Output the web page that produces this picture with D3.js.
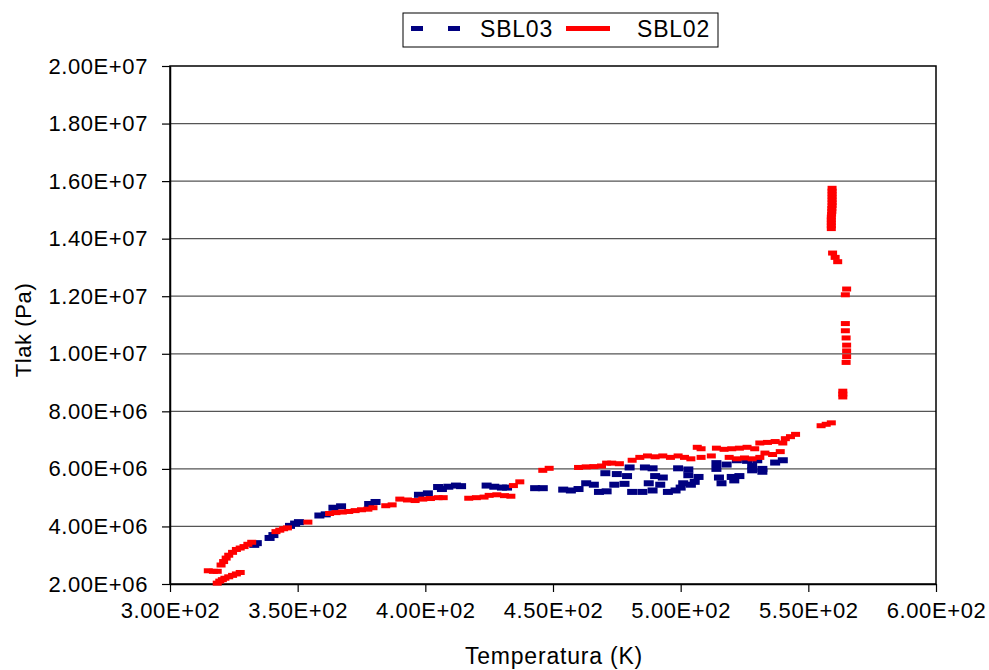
<!DOCTYPE html>
<html><head><meta charset="utf-8">
<script src="https://cdn.jsdelivr.net/npm/d3@7"></script>
<style>
body{margin:0;background:#fff;}
text{font-family:"Liberation Sans",Arial,sans-serif;fill:#000;}
</style></head>
<body>
<svg id="c" width="989" height="670"></svg>
<script>
// ---- data (Temperature K, Pressure Pa) ----
const xTicks = [300, 350, 400, 450, 500, 550, 600];
const yTicks = [2e6, 4e6, 6e6, 8e6, 1e7, 1.2e7, 1.4e7, 1.6e7, 1.8e7, 2e7];
const seriesNames = ["SBL03", "SBL02"];

const sbl03T = [333,334,339,340.5,347,349,350.5,358.5,361,364,367,378,380.5,397.5,401,405,406.5,409,412,414,
  424,427,430,432,443,446,454,457,460,463,466,468,471,470.5,475,479,480,474,478,486,489,490,493,487.5,492,
  481,485,489,495,498,499,503,503,507,501,504,500,505.5,514,514,518,515,520,523,522,526,530,528,532,537,540,516,521,528,532];
const sbl03P = [3.36,3.42,3.6,3.7,4.02,4.1,4.15,4.38,4.42,4.65,4.7,4.78,4.85,5.1,5.15,5.37,5.3,5.38,5.42,5.4,
  5.42,5.38,5.35,5.35,5.33,5.33,5.28,5.25,5.3,5.5,5.45,5.2,5.22,5.85,5.82,5.75,6.05,5.45,5.48,6.05,6.02,5.75,5.7,5.5,5.45,
  5.2,5.2,5.25,5.2,5.25,6.02,5.98,5.78,5.72,5.5,5.45,5.35,5.55,6.0,6.2,6.15,5.7,5.72,5.75,6.3,6.28,6.3,5.95,6.0,6.22,6.3,5.5,5.6,6.1,5.9].map(v => v * 1e6);

const sbl02T = [318.5,319.5,320.5,321.5,323,324.5,326,327.5,315,317,318.5,
  320,321,322,323,324.5,326,327.5,329,330.5,332,341.5,343,344.5,346,354,
  362.5,365,367.5,370,372.5,375,377.5,379.5,384.5,387,
  390,393,396,399,402,405,407,417,420,423,425,428,431,433.5,434.5,437,446,448.5,
  460,463,466,469,471,473,476,481,484,487,490,493,496,499,501.5,504,
  506.5,508,508,512,514,517,520,523,526,529,531,534,537,540,
  519,522,525,528,531,533,536,539,541,543,545,555,557,559,
  563.5,563.5,563.5,564.8,565,565,565,564.8,564.5,564.5,564.5,565,559.5,560.5,561.5,
  559,559,559,559,559,559.1,559.2,559.2,559.3,559.3,559.3,559.3,559.3,559.3,559.3];
const sbl02P = [2.03,2.10,2.15,2.2,2.25,2.3,2.35,2.4,2.46,2.44,2.44,
  2.66,2.78,2.9,3.0,3.1,3.2,3.25,3.3,3.38,3.45,3.82,3.87,3.92,3.95,4.15,
  4.45,4.48,4.5,4.52,4.55,4.58,4.6,4.65,4.72,4.75,
  4.95,4.92,4.9,4.95,4.97,5.0,5.0,4.98,5.0,5.02,5.08,5.1,5.07,5.05,5.42,5.55,5.95,6.02,
  6.05,6.07,6.08,6.1,6.2,6.2,6.18,6.3,6.4,6.45,6.42,6.45,6.4,6.45,6.4,6.35,
  6.75,6.7,6.4,6.45,6.72,6.68,6.7,6.72,6.75,6.7,6.9,6.92,6.95,6.9,
  6.4,6.35,6.38,6.35,6.4,6.55,6.5,6.6,7.05,7.12,7.2,7.5,7.55,7.6,
  8.5,8.6,8.7,9.7,9.9,10.1,10.3,10.55,10.8,11.05,12.05,12.25,13.5,13.35,13.2,
  14.35,14.45,14.55,14.65,14.75,14.85,14.95,15.05,15.15,15.25,15.35,15.45,15.55,15.65,15.75].map(v => v * 1e6);

const sbl03 = sbl03T.map((t, i) => [t, sbl03P[i]]);
const sbl02 = sbl02T.map((t, i) => [t, sbl02P[i]]);

// ---- drawing ----
const svg = d3.select("#c");
const L = 170, R = 936, T = 66, B = 584;
const x = d3.scaleLinear().domain([300, 600]).range([L, R]);
const y = d3.scaleLinear().domain([2e6, 2e7]).range([B, T]);
const FS = 22, LS = 0.6;

function fmtE(v) {
  let s = v.toExponential(2).toUpperCase();
  return s.replace(/E([+-])(\d)$/, "E$10$2");
}

// gridlines
svg.append("g").selectAll("line").data(yTicks.slice(1, -1)).join("line")
  .attr("x1", L).attr("x2", R).attr("y1", d => y(d)).attr("y2", d => y(d))
  .attr("stroke", "#555").attr("stroke-width", 1.3);

// plot border
svg.append("rect").attr("x", L).attr("y", T).attr("width", R - L).attr("height", B - T)
  .attr("fill", "none").attr("stroke", "#000").attr("stroke-width", 1.5);

// axes
const xAxis = svg.append("g").attr("transform", `translate(0,${B})`)
  .call(d3.axisBottom(x).tickValues(xTicks).tickFormat(fmtE).tickSize(8).tickSizeOuter(0).tickPadding(10));
const yAxis = svg.append("g").attr("transform", `translate(${L},0)`)
  .call(d3.axisLeft(y).tickValues(yTicks).tickFormat(fmtE).tickSize(8).tickSizeOuter(0).tickPadding(14));
[xAxis, yAxis].forEach(g => {
  g.select(".domain").attr("stroke", "#000").attr("stroke-width", 1.5);
  g.selectAll(".tick line").attr("stroke", "#000").attr("stroke-width", 1.2);
  g.selectAll("text").attr("font-size", FS).attr("letter-spacing", LS)
    .attr("font-family", '"Liberation Sans",Arial,sans-serif').attr("fill", "#000");
});

// series as dash markers
function dashes(data, color, w, h) {
  svg.append("g").selectAll("rect").data(data).join("rect")
    .attr("x", d => x(d[0]) - w / 2).attr("y", d => y(d[1]) - h / 2)
    .attr("width", w).attr("height", h).attr("fill", color);
}
dashes(sbl03, "#000080", 10, 6);
dashes(sbl02, "#ff0000", 9, 5);

// axis titles
svg.append("text").attr("x", 554).attr("y", 664).attr("text-anchor", "middle")
  .attr("font-size", 23).attr("letter-spacing", 0.8).text("Temperatura (K)");
svg.append("text").attr("transform", "translate(31,330) rotate(-90)").attr("text-anchor", "middle")
  .attr("font-size", FS).attr("letter-spacing", LS).text("Tlak (Pa)");

// legend
const lg = svg.append("g");
lg.append("rect").attr("x", 403).attr("y", 13).attr("width", 315).attr("height", 34)
  .attr("fill", "#fff").attr("stroke", "#000").attr("stroke-width", 1);
lg.append("rect").attr("x", 411).attr("y", 26).attr("width", 12).attr("height", 5).attr("fill", "#000080");
lg.append("rect").attr("x", 448).attr("y", 26).attr("width", 12).attr("height", 5).attr("fill", "#000080");
lg.append("text").attr("x", 480).attr("y", 37).attr("font-size", 23).attr("letter-spacing", 0.8).text(seriesNames[0]);
lg.append("rect").attr("x", 566).attr("y", 26).attr("width", 44).attr("height", 5).attr("fill", "#ff0000");
lg.append("text").attr("x", 637).attr("y", 37).attr("font-size", 23).attr("letter-spacing", 0.8).text(seriesNames[1]);
</script>
</body></html>
